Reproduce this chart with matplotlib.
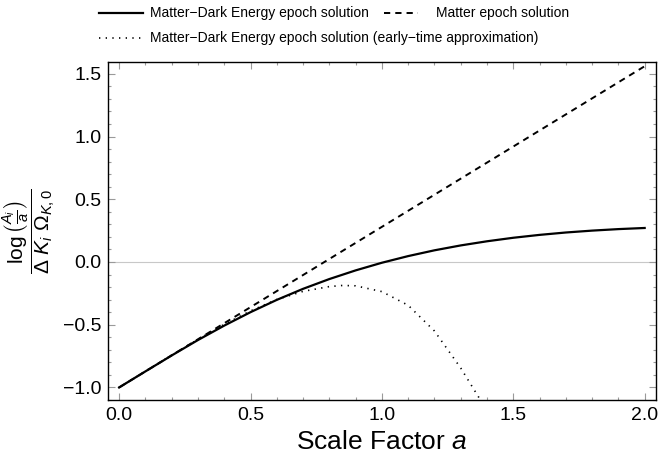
import numpy as np
import matplotlib
matplotlib.use("Agg")
import matplotlib.pyplot as plt
from matplotlib.lines import Line2D
from matplotlib.ticker import MultipleLocator

plt.rcParams['font.family'] = ['Liberation Sans', 'DejaVu Sans']
plt.rcParams['mathtext.fontset'] = 'custom'
plt.rcParams['mathtext.rm'] = 'Liberation Sans'
plt.rcParams['mathtext.it'] = 'Liberation Sans:italic'
plt.rcParams['mathtext.bf'] = 'Liberation Sans:bold'

# values
a_full = [0.0, 0.1, 0.2, 0.3, 0.4, 0.5, 0.6, 0.7, 0.8, 0.9, 1.0,
          1.1, 1.2, 1.3, 1.4, 1.5, 1.6, 1.7, 1.8, 1.9, 2.0]
matter_de = [-1.0, -0.872, -0.745, -0.622, -0.507, -0.400, -0.302, -0.214,
             -0.136, -0.067, -0.006, 0.047, 0.093, 0.132, 0.165, 0.193,
             0.216, 0.235, 0.250, 0.262, 0.271]

a_matter = [0.0, 2.0]
matter = [-1.0, 1.56]

a_early = [0.0, 0.1, 0.2, 0.3, 0.4, 0.5, 0.6, 0.7, 0.8, 0.85, 0.9,
           1.0, 1.1, 1.2, 1.3, 1.375]
early = [-1.0, -0.871, -0.743, -0.617, -0.497, -0.390, -0.299, -0.234,
         -0.196, -0.187, -0.19, -0.236, -0.345, -0.55, -0.845, -1.10]

labels = ["Matter\u2212Dark Energy epoch solution",
          "Matter epoch solution",
          "Matter\u2212Dark Energy epoch solution (early\u2212time approximation)"]

fig = plt.figure(figsize=(6.59, 4.59), dpi=100)
ax = fig.add_axes([0.164, 0.1285, 0.831, 0.7365])

ax.axhline(0, color='#c8c8c8', lw=0.8, zorder=0)
ax.plot(a_full, matter_de, '-', color='black', lw=1.6)
ax.plot(a_matter, matter, '--', color='black', lw=1.4, dashes=(3.2, 2.6))
ax.plot(a_early, early, ':', color='black', lw=1.2, dashes=(0.8, 3.2))

ax.set_xlim(-0.042, 2.042)
ax.set_ylim(-1.10, 1.594)
ax.xaxis.set_major_locator(MultipleLocator(0.5))
ax.xaxis.set_minor_locator(MultipleLocator(0.1))
ax.yaxis.set_major_locator(MultipleLocator(0.5))
ax.yaxis.set_minor_locator(MultipleLocator(0.1))
ax.tick_params(which='both', direction='in', top=True, right=True,
               color='#9a9a9a', width=0.8)
ax.tick_params(which='major', length=5, labelsize=14, pad=5)
ax.tick_params(which='minor', length=2.5)
for s in ax.spines.values():
    s.set_linewidth(1.0)

ax.set_xlabel(r'Scale Factor $a$', fontsize=19, labelpad=4)
ax.set_ylabel(r'$\dfrac{\log\left(\frac{A_i}{a}\right)}{\Delta\ K_i\ \Omega_{K,0}}$',
              fontsize=15, labelpad=4)

# legend drawn above the axes
W, H = 659.0, 459.0
def fx(px):
    return px / W
def fy(py):
    return 1 - py / H

fs = 10
fig.add_artist(Line2D([fx(99), fx(143)], [fy(13), fy(13)], color='black', lw=1.6))
fig.text(fx(150), fy(13), labels[0], fontsize=fs, va='center')
fig.add_artist(Line2D([fx(384), fx(418)], [fy(13), fy(13)], color='black', lw=1.4,
                      ls='--', dashes=(3.2, 2.6)))
fig.text(fx(436), fy(13), labels[1], fontsize=fs, va='center')
fig.add_artist(Line2D([fx(99), fx(145)], [fy(38), fy(38)], color='black', lw=1.2,
                      ls=':', dashes=(0.8, 3.2)))
fig.text(fx(150), fy(38), labels[2], fontsize=fs, va='center')

fig.savefig('out.png', dpi=100)
